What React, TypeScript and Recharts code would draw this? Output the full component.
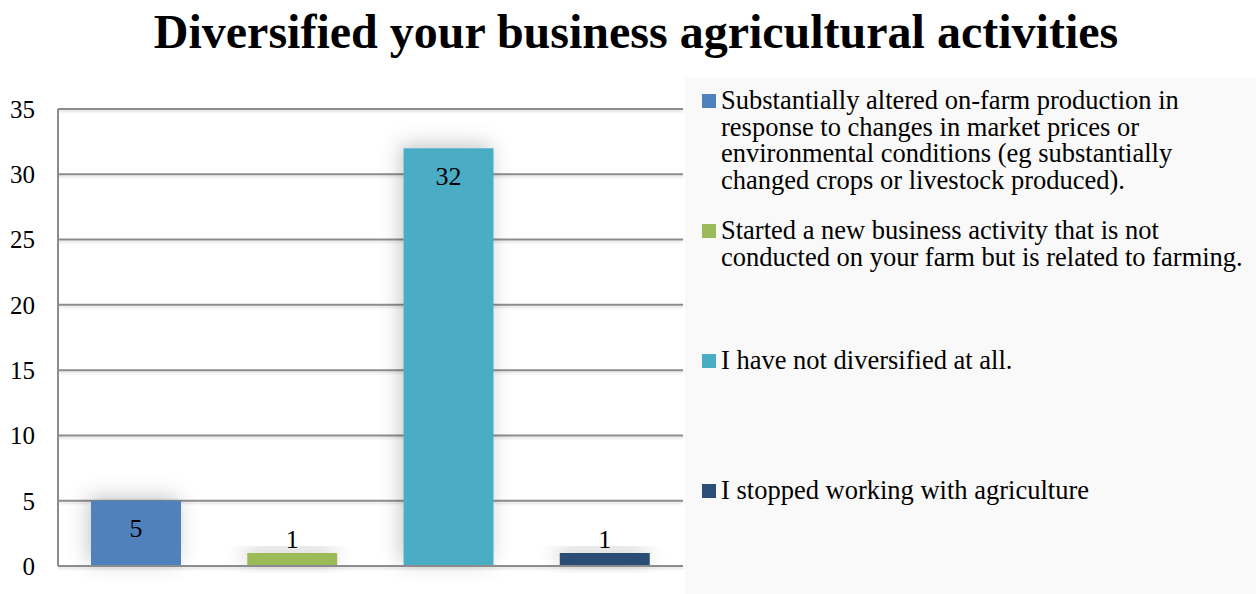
import React from 'react';
import { BarChart, Bar, XAxis, YAxis, CartesianGrid, Cell, LabelList } from 'recharts';

const CATEGORIES = [
  'Substantially altered on-farm production in response to changes in market prices or environmental conditions (eg substantially changed crops or livestock produced).',
  'Started a new business activity that is not conducted on your farm but is related to farming.',
  'I have not diversified at all.',
  'I stopped working with agriculture',
];
const COUNTS = [5, 1, 32, 1];
const COLORS = ['#4F81BD', '#9BBB59', '#4BACC6', '#2C4D75'];
const Y_TICKS = [0, 5, 10, 15, 20, 25, 30, 35];

const data = CATEGORIES.map((name, i) => ({ name, value: COUNTS[i] }));

const FONT = '"Liberation Serif", "Times New Roman", serif';

// Excel puts the label inside the top of the bar, or above it when the bar is too short
const BarValueLabel = (props: any) => {
  const { x, y, width, height, value } = props;
  const inside = height > 40;
  return (
    <text
      x={x + width / 2}
      y={inside ? y + 28 : y - 13}
      textAnchor="middle"
      dominantBaseline="central"
      fontSize={26}
      fontFamily={FONT}
      fill="#000"
    >
      {value}
    </text>
  );
};

export default function App() {
  return (
    <div style={{ position: 'absolute', left: 0, top: 0, width: 1256, height: 594, background: '#fff', fontFamily: FONT }}>
      <div
        style={{
          position: 'absolute', top: 2, left: 16, width: 1240, textAlign: 'center',
          fontSize: 48, fontWeight: 'bold', color: '#000', lineHeight: '60px',
        }}
      >
        Diversified your business agricultural activities
      </div>

      <div style={{ position: 'absolute', left: 685, top: 78, right: 0, bottom: 0, background: '#F9F9F9' }} />

      <div style={{ position: 'absolute', left: 0, top: 0 }}>
        <BarChart width={700} height={594} data={data} margin={{ top: 109, right: 17, bottom: 0, left: 8 }} barSize={90}>
          <defs>
            <filter id="barShadow" x="-50%" y="-50%" width="200%" height="200%">
              <feDropShadow dx={-3} dy={-4} stdDeviation={10} floodColor="#000" floodOpacity={0.22} />
            </filter>
            <filter id="lineShadow" filterUnits="userSpaceOnUse" x={0} y={0} width={700} height={594}>
              <feDropShadow dx={0} dy={2} stdDeviation={1} floodColor="#000" floodOpacity={0.12} />
            </filter>
          </defs>
          <CartesianGrid vertical={false} stroke="#8C8C8C" strokeWidth={2} filter="url(#lineShadow)" />
          <XAxis dataKey="name" tick={false} tickLine={false} axisLine={{ stroke: '#8C8C8C', strokeWidth: 2 }} height={28} />
          <YAxis
            domain={[0, 35]}
            ticks={Y_TICKS}
            width={50}
            tickLine={false}
            tickSize={0}
            tickMargin={23}
            axisLine={{ stroke: '#8C8C8C', strokeWidth: 2 }}
            tick={{ fill: '#000', fontSize: 25, fontFamily: FONT }}
          />
          <Bar dataKey="value" isAnimationActive={false} filter="url(#barShadow)">
            {data.map((d, i) => (
              <Cell key={d.name} fill={COLORS[i]} />
            ))}
            <LabelList dataKey="value" content={<BarValueLabel />} />
          </Bar>
        </BarChart>
      </div>

      <div style={{ position: 'absolute', left: 702, top: 87, width: 550 }}>
        {CATEGORIES.map((name, i) => (
          <div key={name} style={{ position: 'absolute', top: i * 130, left: 0, width: 550, display: 'flex' }}>
            <div style={{ width: 14, height: 14, background: COLORS[i], marginTop: 7, flex: 'none' }} />
            <div style={{ marginLeft: 5, width: 530, fontSize: 26.5, lineHeight: '26.6px', color: '#000' }}>{name}</div>
          </div>
        ))}
      </div>
    </div>
  );
}
